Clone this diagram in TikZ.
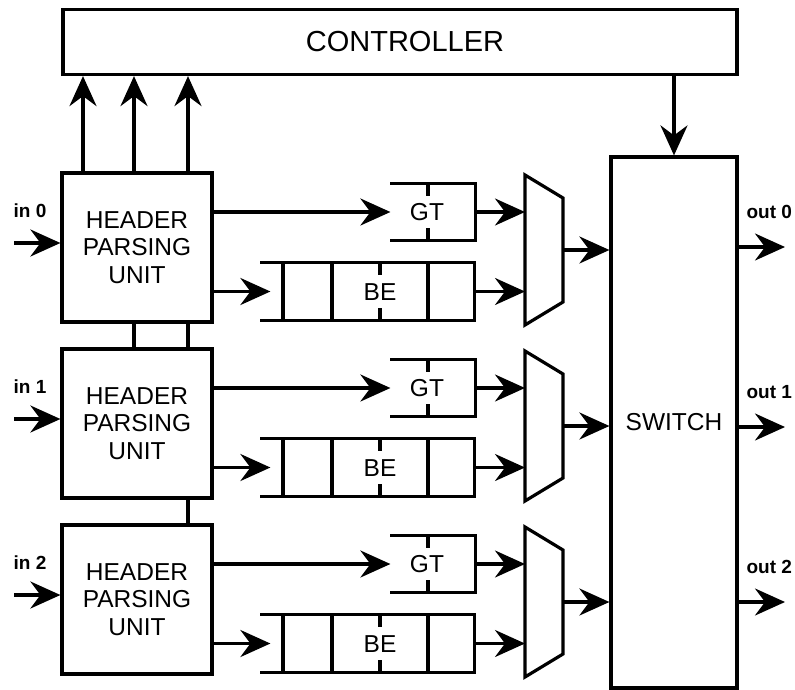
\documentclass[tikz,border=0pt]{standalone}
\usepackage{fontspec}
\setmainfont{Liberation Sans}
\usetikzlibrary{arrows.meta,positioning}

\begin{document}
\begin{tikzpicture}[
  x=1pt, y=-1pt,
  font=\fontsize{24.5}{27.5}\selectfont,
  line width=3.2pt,
  box/.style={draw, line width=3.2pt, inner sep=0pt, align=center},
  hpu/.style={box, minimum width=150pt, minimum height=149pt},
  frame/.style={inner sep=0pt, minimum height=54pt},
  lbl/.style={font=\fontsize{19}{22}\selectfont\bfseries, anchor=west, inner sep=0pt},
  ar/.style={-{Stealth[length=30pt, width=27pt, inset=10pt]}, line width=3.2pt},
]
\useasboundingbox (0,0) rectangle (795,689);

\node[box, minimum width=674pt, minimum height=65pt,
      font=\fontsize{29}{30}\selectfont] (ctrl) at (400,42) {\hspace{10pt}CONTROLLER};
\node[box, minimum width=126pt, minimum height=531pt] (sw) at (674,422.5) {SWITCH};

\foreach \i/\d/\o in {0/0/247, 1/176/427, 2/352/602} {
  % header parsing unit and its input
  \node[hpu] (hpu\i) at (137,247.5+\d) {HEADER\\PARSING\\UNIT};
  \coordinate (in\i) at (14,243+\d);
  \node[lbl] (inl\i) at (12,211+\d) {in \i};
  \draw[ar] (in\i) -- (in\i -| hpu\i.west);

  % GT queue
  \node[frame, minimum width=82pt] (gtq\i) at (433,212+\d) {};
  \node (gt\i) at (427,212+\d) {GT};
  \draw (gtq\i.north west) -- (gtq\i.north east) -- (gtq\i.south east) -- (gtq\i.south west);
  \draw (428,185+\d) -- ++(0,11) (428,239+\d) -- ++(0,-11);

  % BE queue
  \node[frame, minimum width=211pt, minimum height=55pt] (beq\i) at (367.5,291.5+\d) {};
  \node (be\i) at (380,292+\d) {BE};
  \draw (beq\i.north west) -- (beq\i.north east) -- (beq\i.south east) -- (beq\i.south west);
  \foreach \x in {283,332,428}
    \draw (\x,264+\d) -- (\x,319+\d);
  \draw (380,264+\d) -- ++(0,11) (380,319+\d) -- ++(0,-11);
  \coordinate (bein\i) at ([xshift=10pt]beq\i.west);

  % multiplexer
  \draw (525,175+\d) -- (563,198+\d) -- (563,302+\d) -- (525,325+\d) -- cycle;
  \coordinate (mxl\i) at (525,250+\d);
  \coordinate (mxr\i) at (563,250+\d);

  \draw[ar] (hpu\i.east |- gtq\i) -- (gtq\i.west);
  \draw[ar] (hpu\i.east |- beq\i) -- (bein\i);
  \draw[ar] (gtq\i.east) -- (gtq\i.east -| mxl\i);
  \draw[ar] (beq\i.east) -- (beq\i.east -| mxl\i);
  \draw[ar] (mxr\i) -- (mxr\i -| sw.west);

  % switch output
  \coordinate (out\i) at (785,\o);
  \node[lbl] (outl\i) at (745,\o-35) {out \i};
  \draw[ar] (sw.east |- out\i) -- (out\i);
}

\foreach \s in {-54,-3,51}
  \draw[ar] ([xshift=\s pt]hpu0.north) -- ([xshift=\s pt]hpu0.north |- ctrl.south);
\foreach \s in {-3,51}
  \draw ([xshift=\s pt]hpu0.south) -- ([xshift=\s pt]hpu1.north);
\draw ([xshift=51pt]hpu1.south) -- ([xshift=51pt]hpu2.north);
\draw[ar] (ctrl.south -| sw.north) -- (sw.north);
\end{tikzpicture}
\end{document}
